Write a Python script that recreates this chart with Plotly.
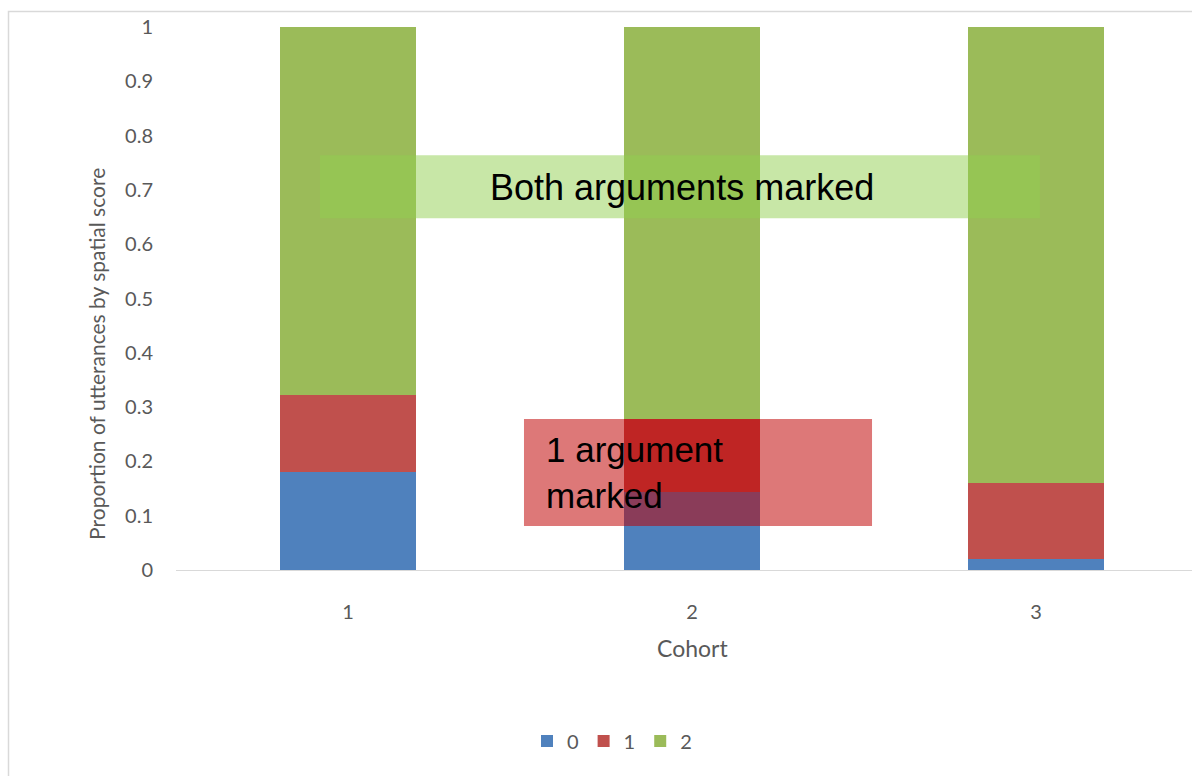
import plotly.graph_objects as go

# Proportion of utterances by spatial score, per cohort
cohorts = [1, 2, 3]
score_labels = ["0", "1", "2"]
score0 = [0.18, 0.144, 0.02]
score1 = [0.142, 0.134, 0.14]
score2 = [0.678, 0.722, 0.84]
colors = ["#4F81BD", "#C0504D", "#9BBB59"]

y_ticks = [0, 0.1, 0.2, 0.3, 0.4, 0.5, 0.6, 0.7, 0.8, 0.9, 1]
y_tick_text = ["0", "0.1", "0.2", "0.3", "0.4", "0.5", "0.6", "0.7", "0.8", "0.9", "1"]

W, H = 1192, 776
ML, MR, MT, MB = 176, 0, 27, 206
CAT_PX = 344  # pixel width of one cohort slot
plot_w = W - ML - MR
x_max = 0.5 + plot_w / CAT_PX

fig = go.Figure()
for name, vals, col in zip(score_labels, [score0, score1, score2], colors):
    fig.add_trace(go.Bar(
        x=cohorts, y=vals, name=name, width=0.395,
        marker=dict(color=col, line=dict(width=0)),
    ))

label_font = dict(family="Lato, Carlito, sans-serif", size=20, color="#595959")

fig.update_layout(
    width=W, height=H,
    margin=dict(l=ML, r=MR, t=MT, b=MB, pad=0),
    paper_bgcolor="white", plot_bgcolor="white",
    barmode="stack", bargap=0,
    showlegend=True,
    legend=dict(orientation="h", x=(612 - ML) / plot_w, xanchor="center",
                y=-(741 - 570) / 543, yanchor="middle", traceorder="normal",
                font=label_font, itemwidth=30, tracegroupgap=0,
                bgcolor="rgba(0,0,0,0)"),
    xaxis=dict(range=[0.5, x_max], tickvals=cohorts, ticktext=[str(c) for c in cohorts],
               showgrid=False, zeroline=False, showline=True, linecolor="#D9D9D9",
               linewidth=1, ticks="", tickfont=label_font, ticklabelstandoff=24),
    yaxis=dict(range=[0, 1], tickvals=y_ticks, ticktext=y_tick_text,
               showgrid=False, zeroline=False, showline=False, ticks="",
               tickfont=label_font, ticklabelstandoff=22),
    font=dict(family="Lato, sans-serif"),
)

# chart frame
fig.add_shape(type="rect", xref="paper", yref="paper",
              x0=(8.5 - ML) / plot_w, x1=1.2, y0=-0.6, y1=(570 - 11.5) / 543,
              line=dict(color="#D9D9D9", width=1.5), fillcolor="rgba(0,0,0,0)", layer="below")

# y axis title, sitting a little below the plot's vertical centre
fig.add_annotation(text="Proportion of utterances by spatial score", textangle=-90,
                   x=(97 - ML) / plot_w, xref="paper", y=0.398, yref="paper",
                   showarrow=False, xanchor="center", yanchor="middle",
                   font=dict(family="Lato, Carlito, sans-serif", size=21, color="#595959"))

# x axis title centred on the middle cohort
fig.add_annotation(text="Cohort", x=2, xref="x", y=-(648 - 570) / 543, yref="paper",
                   showarrow=False, font=dict(family="Lato, Carlito, sans-serif", size=23, color="#595959"),
                   xanchor="center", yanchor="middle")

# highlight boxes
fig.add_shape(type="rect", xref="x", yref="y", x0=0.9186, x1=3.0116, y0=0.648, y1=0.764,
              fillcolor="rgba(145,207,79,0.5)", line=dict(width=0), layer="above")
fig.add_shape(type="rect", xref="x", yref="y", x0=1.5116, x1=2.5233, y0=0.081, y1=0.278,
              fillcolor="rgba(190,0,0,0.53)", line=dict(width=0), layer="above")

fig.add_annotation(text="Both arguments marked", x=1.4070, y=0.705, xref="x", yref="y",
                   xanchor="left", yanchor="middle", showarrow=False,
                   font=dict(family="Arial, Liberation Sans, sans-serif", size=36, color="black"))
fig.add_annotation(text="1 argument<br>marked", x=1.5700, y=0.18, xref="x", yref="y",
                   xanchor="left", yanchor="middle", align="left", showarrow=False,
                   font=dict(family="Arial, Liberation Sans, sans-serif", size=35, color="black"))

fig.write_html("out.html")
